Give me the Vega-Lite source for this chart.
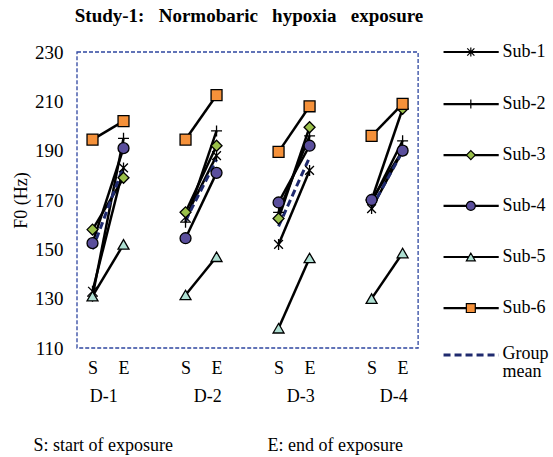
{
  "$schema": "https://vega.github.io/schema/vega-lite/v6.json",
  "width": 476,
  "height": 296,
  "autosize": {"type": "none"},
  "padding": {"left": 77, "top": 52, "right": 0, "bottom": 109},
  "title": {
    "text": "Study-1:\u00a0\u00a0 Normobaric\u00a0\u00a0 hypoxia\u00a0\u00a0 exposure",
    "font": "Liberation Serif",
    "fontSize": 19,
    "fontWeight": "bold",
    "color": "black",
    "anchor": "middle",
    "frame": "group",
    "dx": -66,
    "offset": 17
  },
  "config": {
    "view": {"stroke": null},
    "font": "Liberation Serif",
    "axis": {"labelFont": "Liberation Serif", "titleFont": "Liberation Serif"},
    "style": {"guide-title": {"font": "Liberation Serif"}, "guide-label": {"font": "Liberation Serif"}},
    "text": {"font": "Liberation Serif"}
  },
  "datasets": {
    "frame": [{"fx": -0.5, "fx2": 10.5, "fy": 110, "fy2": 230}],
    "f0": [
      {"sub": "Sub-1", "day": "D-1", "pos": 0, "f0": 133},
      {"sub": "Sub-1", "day": "D-1", "pos": 1, "f0": 183},
      {"sub": "Sub-1", "day": "D-2", "pos": 3, "f0": 163},
      {"sub": "Sub-1", "day": "D-2", "pos": 4, "f0": 188},
      {"sub": "Sub-1", "day": "D-3", "pos": 6, "f0": 152},
      {"sub": "Sub-1", "day": "D-3", "pos": 7, "f0": 182},
      {"sub": "Sub-1", "day": "D-4", "pos": 9, "f0": 166.5},
      {"sub": "Sub-1", "day": "D-4", "pos": 10, "f0": 190},
      {"sub": "Sub-2", "day": "D-1", "pos": 0, "f0": 131},
      {"sub": "Sub-2", "day": "D-1", "pos": 1, "f0": 195},
      {"sub": "Sub-2", "day": "D-2", "pos": 3, "f0": 161},
      {"sub": "Sub-2", "day": "D-2", "pos": 4, "f0": 198},
      {"sub": "Sub-2", "day": "D-3", "pos": 6, "f0": 165},
      {"sub": "Sub-2", "day": "D-3", "pos": 7, "f0": 196},
      {"sub": "Sub-2", "day": "D-4", "pos": 9, "f0": 169},
      {"sub": "Sub-2", "day": "D-4", "pos": 10, "f0": 194},
      {"sub": "Sub-3", "day": "D-1", "pos": 0, "f0": 158},
      {"sub": "Sub-3", "day": "D-1", "pos": 1, "f0": 179},
      {"sub": "Sub-3", "day": "D-2", "pos": 3, "f0": 165},
      {"sub": "Sub-3", "day": "D-2", "pos": 4, "f0": 192},
      {"sub": "Sub-3", "day": "D-3", "pos": 6, "f0": 162.5},
      {"sub": "Sub-3", "day": "D-3", "pos": 7, "f0": 199.5},
      {"sub": "Sub-3", "day": "D-4", "pos": 9, "f0": 170},
      {"sub": "Sub-3", "day": "D-4", "pos": 10, "f0": 207},
      {"sub": "Sub-4", "day": "D-1", "pos": 0, "f0": 152.5},
      {"sub": "Sub-4", "day": "D-1", "pos": 1, "f0": 191},
      {"sub": "Sub-4", "day": "D-2", "pos": 3, "f0": 154.5},
      {"sub": "Sub-4", "day": "D-2", "pos": 4, "f0": 181},
      {"sub": "Sub-4", "day": "D-3", "pos": 6, "f0": 169},
      {"sub": "Sub-4", "day": "D-3", "pos": 7, "f0": 192},
      {"sub": "Sub-4", "day": "D-4", "pos": 9, "f0": 170},
      {"sub": "Sub-4", "day": "D-4", "pos": 10, "f0": 190},
      {"sub": "Sub-5", "day": "D-1", "pos": 0, "f0": 131},
      {"sub": "Sub-5", "day": "D-1", "pos": 1, "f0": 152},
      {"sub": "Sub-5", "day": "D-2", "pos": 3, "f0": 131.5},
      {"sub": "Sub-5", "day": "D-2", "pos": 4, "f0": 147},
      {"sub": "Sub-5", "day": "D-3", "pos": 6, "f0": 118},
      {"sub": "Sub-5", "day": "D-3", "pos": 7, "f0": 146.5},
      {"sub": "Sub-5", "day": "D-4", "pos": 9, "f0": 130},
      {"sub": "Sub-5", "day": "D-4", "pos": 10, "f0": 148.5},
      {"sub": "Sub-6", "day": "D-1", "pos": 0, "f0": 194.5},
      {"sub": "Sub-6", "day": "D-1", "pos": 1, "f0": 202},
      {"sub": "Sub-6", "day": "D-2", "pos": 3, "f0": 194.5},
      {"sub": "Sub-6", "day": "D-2", "pos": 4, "f0": 212.5},
      {"sub": "Sub-6", "day": "D-3", "pos": 6, "f0": 189.5},
      {"sub": "Sub-6", "day": "D-3", "pos": 7, "f0": 208},
      {"sub": "Sub-6", "day": "D-4", "pos": 9, "f0": 196},
      {"sub": "Sub-6", "day": "D-4", "pos": 10, "f0": 209}
    ],
    "mean": [
      {"day": "D-1", "pos": 0, "f0": 150},
      {"day": "D-1", "pos": 1, "f0": 183.7},
      {"day": "D-2", "pos": 3, "f0": 161.6},
      {"day": "D-2", "pos": 4, "f0": 186.4},
      {"day": "D-3", "pos": 6, "f0": 159.3},
      {"day": "D-3", "pos": 7, "f0": 187.3},
      {"day": "D-4", "pos": 9, "f0": 166.9},
      {"day": "D-4", "pos": 10, "f0": 189.75},
      {"day": "legend", "pos": 11.32, "f0": 107.2},
      {"day": "legend", "pos": 13.1, "f0": 107.2}
    ],
    "legline": [
      {"sub": "Sub-1", "lx": 11.32, "ly": 230},
      {"sub": "Sub-1", "lx": 13.1, "ly": 230},
      {"sub": "Sub-2", "lx": 11.32, "ly": 208.9},
      {"sub": "Sub-2", "lx": 13.1, "ly": 208.9},
      {"sub": "Sub-3", "lx": 11.32, "ly": 188.2},
      {"sub": "Sub-3", "lx": 13.1, "ly": 188.2},
      {"sub": "Sub-4", "lx": 11.32, "ly": 167.6},
      {"sub": "Sub-4", "lx": 13.1, "ly": 167.6},
      {"sub": "Sub-5", "lx": 11.32, "ly": 146.9},
      {"sub": "Sub-5", "lx": 13.1, "ly": 146.9},
      {"sub": "Sub-6", "lx": 11.32, "ly": 126.2},
      {"sub": "Sub-6", "lx": 13.1, "ly": 126.2}
    ],
    "legpt": [
      {"sub": "Sub-1", "lx": 12.2, "ly": 230},
      {"sub": "Sub-2", "lx": 12.2, "ly": 208.9},
      {"sub": "Sub-3", "lx": 12.2, "ly": 188.2},
      {"sub": "Sub-4", "lx": 12.2, "ly": 167.6},
      {"sub": "Sub-5", "lx": 12.2, "ly": 146.9},
      {"sub": "Sub-6", "lx": 12.2, "ly": 126.2}
    ],
    "legtext": [
      {"label": "Sub-1", "lx": 13.16, "ly": 230},
      {"label": "Sub-2", "lx": 13.16, "ly": 208.9},
      {"label": "Sub-3", "lx": 13.16, "ly": 188.2},
      {"label": "Sub-4", "lx": 13.16, "ly": 167.6},
      {"label": "Sub-5", "lx": 13.16, "ly": 146.9},
      {"label": "Sub-6", "lx": 13.16, "ly": 126.2},
      {"label": "Group", "lx": 13.16, "ly": 107.6},
      {"label": "mean", "lx": 13.16, "ly": 100.2}
    ]
  },
  "layer": [
    {
      "data": {"name": "frame"},
      "mark": {"type": "rect", "fill": "white", "fillOpacity": 0, "stroke": "#2e46a0", "strokeWidth": 1.3, "strokeDash": [4, 2]},
      "encoding": {
        "x": {
          "field": "fx", "type": "quantitative",
          "scale": {"type": "linear", "domain": [-0.5, 14.85], "nice": false, "zero": false},
          "axis": {
            "values": [0, 0.35, 1, 3, 3.7, 4, 6, 6.7, 7, 9, 9.7, 10],
            "labelExpr": "indexof([0,3,6,9], datum.value) >= 0 ? 'S' : (indexof([1,4,7,10], datum.value) >= 0 ? 'E' : 'D-' + (floor(datum.value/3)+1))",
            "domain": false, "ticks": false, "grid": false,
            "labelFont": "Liberation Serif",
            "labelFontSize": 18, "labelColor": "black",
            "labelPadding": {"condition": {"test": "indexof([0,1,3,4,6,7,9,10], datum.value) < 0", "value": 39}, "value": 11},
            "labelOverlap": false, "labelBound": false, "labelFlush": false,
            "title": "S: start of exposure\u00a0\u00a0\u00a0\u00a0\u00a0\u00a0\u00a0\u00a0\u00a0\u00a0\u00a0\u00a0\u00a0\u00a0\u00a0\u00a0\u00a0\u00a0\u00a0\u00a0\u00a0E: end of exposure",
            "titleFont": "Liberation Serif",
            "titleFontSize": 18, "titleFontWeight": "normal", "titleColor": "black",
            "titleAnchor": "start", "titleAlign": "left", "titleX": -44, "titlePadding": 31
          }
        },
        "x2": {"field": "fx2"},
        "y": {
          "field": "fy", "type": "quantitative",
          "scale": {"domain": [110, 230], "nice": false, "zero": false},
          "axis": {
            "values": [110, 130, 150, 170, 190, 210, 230],
            "domain": false, "ticks": false, "grid": false,
            "labelFont": "Liberation Serif",
            "labelFontSize": 19, "labelColor": "black", "labelPadding": 14,
            "labelFlush": false,
            "title": "F0 (Hz)",
            "titleFont": "Liberation Serif",
            "titleFontSize": 18, "titleFontWeight": "normal",
            "titleColor": "black", "titlePadding": 4
          }
        },
        "y2": {"field": "fy2"}
      }
    },
    {
      "data": {"name": "f0"},
      "mark": {"type": "line", "color": "black", "strokeWidth": 2.5},
      "encoding": {
        "x": {"field": "pos", "type": "quantitative"},
        "y": {"field": "f0", "type": "quantitative"},
        "detail": [{"field": "sub"}, {"field": "day"}]
      }
    },
    {
      "data": {"name": "mean"},
      "mark": {"type": "line", "color": "#1f2a6e", "strokeWidth": 3, "strokeDash": [7, 4]},
      "encoding": {
        "x": {"field": "pos", "type": "quantitative"},
        "y": {"field": "f0", "type": "quantitative"},
        "detail": {"field": "day"}
      }
    },
    {
      "data": {"name": "legline"},
      "mark": {"type": "line", "color": "black", "strokeWidth": 2.2},
      "encoding": {
        "x": {"field": "lx", "type": "quantitative"},
        "y": {"field": "ly", "type": "quantitative"},
        "detail": {"field": "sub"}
      }
    },
    {
      "data": {"name": "f0"},
      "mark": {"type": "point", "filled": true, "stroke": "black", "strokeWidth": 1.3, "size": 120, "opacity": 1},
      "encoding": {
        "x": {"field": "pos", "type": "quantitative"},
        "y": {"field": "f0", "type": "quantitative"},
        "shape": {
          "field": "sub", "type": "nominal", "legend": null,
          "scale": {
            "domain": ["Sub-1", "Sub-2", "Sub-3", "Sub-4", "Sub-5", "Sub-6"],
            "range": ["M-0.8,-0.8L0.8,0.8M-0.8,0.8L0.8,-0.8M0,-1L0,1", "M-1,0L1,0M0,-1L0,1", "diamond", "circle", "triangle-up", "square"]
          }
        },
        "color": {
          "field": "sub", "type": "nominal", "legend": null,
          "scale": {
            "domain": ["Sub-1", "Sub-2", "Sub-3", "Sub-4", "Sub-5", "Sub-6"],
            "range": ["#000000", "#000000", "#9ac04a", "#5a4e9c", "#aedfd2", "#f5913a"]
          }
        }
      }
    },
    {
      "data": {"name": "legpt"},
      "mark": {"type": "point", "filled": true, "stroke": "black", "strokeWidth": 1.2, "size": 80, "opacity": 1},
      "encoding": {
        "x": {"field": "lx", "type": "quantitative"},
        "y": {"field": "ly", "type": "quantitative"},
        "shape": {"field": "sub", "type": "nominal", "legend": null},
        "color": {"field": "sub", "type": "nominal", "legend": null}
      }
    },
    {
      "data": {"name": "legtext"},
      "mark": {"type": "text", "align": "left", "baseline": "middle", "dx": 2, "fontSize": 18, "color": "black", "font": "Liberation Serif"},
      "encoding": {
        "x": {"field": "lx", "type": "quantitative"},
        "y": {"field": "ly", "type": "quantitative"},
        "text": {"field": "label"}
      }
    }
  ]
}
